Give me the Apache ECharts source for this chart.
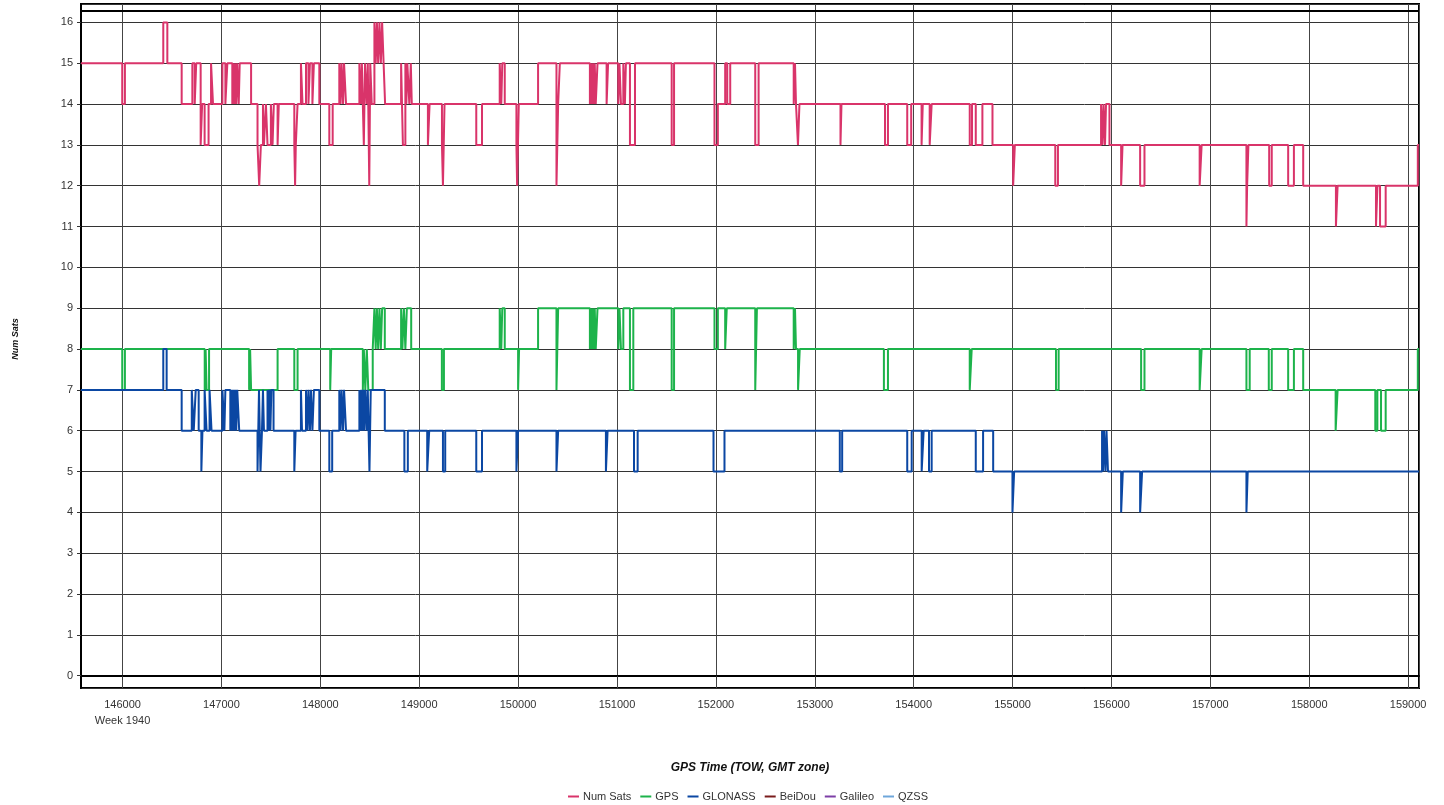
<!DOCTYPE html>
<html>
<head>
<meta charset="utf-8">
<script src="https://cdn.jsdelivr.net/npm/echarts@6/dist/echarts.min.js"></script>
<style>
html,body{margin:0;padding:0;background:#fff;}
#chart{width:1444px;height:805px;}
</style>
</head>
<body>
<div id="chart"></div>
<script>
// ---- DATA (GPS TOW seconds, satellite count held until next change) ----
const seriesNames = ['Num Sats', 'GPS', 'GLONASS', 'BeiDou', 'Galileo', 'QZSS'];
const xMin = 145580, xMax = 159110;
const yMin = -0.3, yMax = 16.45;

const numSats = [
[145580,15],[145997,14],[146024,15],[146412,16],[146453,15],[146598,14],[146706,15],[146730,14],[146745,15],
[146790,13],[146805,14],[146830,13],[146870,14],[146895,15],[146915,14],[147010,15],[147040,14],[147060,15],
[147110,14],[147120,15],[147130,14],[147140,15],[147150,14],[147160,15],[147175,14],[147185,15],[147300,14],
[147365,13],[147382,12],[147399,13],[147420,14],[147430,13],[147450,14],[147466,13],[147500,14],[147517,13],
[147530,14],[147568,13],[147580,14],[147737,13],[147745,12],[147752,13],[147770,14],[147804,15],[147820,14],
[147855,15],[147880,14],[147895,15],[147920,14],[147935,15],[147990,14],[148091,13],[148125,14],[148192,15],
[148205,14],[148215,15],[148230,14],[148240,15],[148260,14],[148395,15],[148410,14],[148420,15],[148440,13],
[148452,15],[148470,14],[148480,15],[148495,12],[148505,15],[148520,14],[148547,16],[148560,15],[148572,16],
[148585,15],[148598,16],[148612,15],[148625,16],[148640,15],[148655,14],[148817,15],[148835,13],[148860,15],
[148870,14],[148880,15],[148900,14],[148915,15],[148925,14],
[149088,13],[149105,14],[149230,13],[149240,12],[149256,14],[149577,13],[149635,14],[149814,15],[149830,14],
[149840,15],[149865,14],[149983,13],[149990,12],[150007,14],[150202,15],[150388,12],[150405,14],[150422,15],
[150726,14],[150735,15],[150745,14],[150755,15],[150765,14],[150775,15],[150785,14],[150803,15],[150895,14],
[150910,15],[151013,14],[151025,15],[151040,14],[151064,15],[151080,14],[151090,15],[151131,13],[151182,15],
[151553,13],[151577,15],[151986,13],[152020,14],[152094,15],[152115,14],[152145,15],[152398,13],[152432,15],
[152787,14],[152800,15],[152810,14],[152830,13],[152845,14],[153260,13],[153270,14],[153710,13],[153740,14],
[153935,13],[153975,14],[154080,13],[154092,14],[154162,13],[154182,14],[154567,13],[154590,14],[154628,13],
[154695,14],[154797,13],[155006,12],[155023,13],[155432,12],[155459,13],[155895,14],[155910,13],[155920,14],
[155935,13],[155945,14],[155980,13],
[156098,12],[156112,13],[156290,12],[156334,13],[156892,12],[156912,13],[157365,11],[157372,12],[157385,13],
[157595,12],[157621,13],[157787,12],[157845,13],[157939,12],[158270,11],[158287,12],[158675,11],[158690,12],
[158716,11],[158773,12],[159098,13],[159110,13]
];

const gps = [
[145580,8],[145997,7],[146024,8],[146831,7],[146840,8],[146850,7],[146875,8],[147280,7],[147290,8],[147300,7],
[147568,8],[147737,7],[147770,8],[148100,7],[148110,8],[148430,7],[148440,8],[148455,7],[148470,8],[148485,7],
[148530,8],[148547,9],[148560,8],[148572,9],[148585,8],[148598,9],[148612,8],[148625,9],[148652,8],[148817,9],
[148830,8],[148845,9],[148860,8],[148875,9],[148919,8],
[149229,7],[149250,8],[149814,9],[149830,8],[149840,9],[149865,8],[150000,7],[150010,8],[150202,9],[150388,7],
[150405,9],[150726,8],[150735,9],[150745,8],[150755,9],[150765,8],[150775,9],[150785,8],[150803,9],[151013,8],
[151025,9],[151040,8],[151064,9],[151131,7],[151165,9],[151553,7],[151577,9],[151986,8],[152020,9],[152094,8],
[152110,9],[152398,7],[152415,9],
[152787,8],[152800,9],[152810,8],[152831,7],[152848,8],[153699,7],[153740,8],[154567,7],[154587,8],[155439,7],
[155466,8],
[156300,7],[156334,8],[156892,7],[156912,8],[157365,7],[157398,8],[157591,7],[157621,8],[157787,7],[157845,8],
[157939,7],[158267,6],[158287,7],[158668,6],[158689,7],[158726,6],[158773,7],[159098,8],[159110,8]
];

const glonass = [
[145580,7],[146412,8],[146446,7],[146598,6],[146700,7],[146720,6],[146740,7],[146770,6],[146797,5],[146808,6],
[146830,7],[146850,6],[146880,7],[146900,6],[147010,7],[147030,6],[147040,7],[147090,6],[147100,7],[147110,6],
[147120,7],[147130,6],[147140,7],[147150,6],[147160,7],[147180,6],[147365,5],[147380,7],[147395,5],[147410,6],
[147420,7],[147430,6],[147466,7],[147475,6],[147485,7],[147495,6],[147505,7],[147527,6],[147737,5],[147750,6],
[147804,7],[147815,6],[147855,7],[147870,6],[147880,7],[147895,6],[147905,7],[147920,6],[147935,7],[147990,6],
[148091,5],[148120,6],[148192,7],[148205,6],[148215,7],[148230,6],[148240,7],[148260,6],[148395,7],[148405,6],
[148415,7],[148425,6],[148435,7],[148445,6],[148455,7],[148470,6],[148480,7],[148497,5],[148510,7],[148652,6],
[148850,5],[148885,6],
[149081,5],[149101,6],[149240,5],[149263,6],[149577,5],[149635,6],[149983,5],[150000,6],[150388,5],[150405,6],
[150888,5],[150905,6],[151172,5],[151209,6],[151976,5],[152087,6],
[153253,5],[153277,6],[153935,5],[153980,6],[154081,5],[154101,6],[154155,5],[154182,6],[154628,5],[154702,6],
[154804,5],[154999,4],[155016,5],[155905,6],[155915,5],[155925,6],[155940,5],[155950,6],[155965,5],
[156098,4],[156115,5],[156290,4],[156310,5],[157365,4],[157378,5],[159110,5]
];

const beidou = [];
const galileo = [];
const qzss = [];

const weekLabel = 'Week 1940';
const firstTick = 146000;

// ---- STYLE ----
const colors = ['#D9346A', '#1DB34B', '#0B47A3', '#7A1C1C', '#7D3FA6', '#6EA6DA'];
const font = '"Liberation Sans", Arial, sans-serif';

const chart = echarts.init(document.getElementById('chart'), null, {renderer: 'canvas'});

function lineSeries(name, data, color, extra) {
  return Object.assign({
    name: name,
    type: 'line',
    step: 'end',
    data: data,
    symbol: 'none',
    showSymbol: false,
    animation: false,
    lineStyle: {color: color, width: 2},
    itemStyle: {color: color},
    emphasis: {disabled: true}
  }, extra || {});
}

const option = {
  animation: false,
  backgroundColor: '#ffffff',
  color: colors,
  grid: {
    left: 81, right: 25, top: 4, bottom: 117,
    show: true, borderColor: '#000', borderWidth: 2,
    containLabel: false
  },
  legend: {
    data: seriesNames,
    top: 786,
    left: 563,
    icon: 'rect',
    itemWidth: 11,
    itemHeight: 2,
    itemGap: 9,
    textStyle: {fontFamily: font, fontSize: 11, color: '#333', padding: [0, 0, 0, -1]}
  },
  xAxis: {
    type: 'value',
    min: xMin,
    max: xMax,
    splitNumber: 13,
    name: 'GPS Time (TOW, GMT zone)',
    nameLocation: 'middle',
    nameGap: 74,
    nameTextStyle: {fontFamily: font, fontSize: 12, fontWeight: 'bold', fontStyle: 'italic', color: '#111'},
    axisLine: {show: true, lineStyle: {color: '#000', width: 2}},
    axisTick: {show: true, length: 4, lineStyle: {color: '#333'}},
    axisLabel: {
      fontFamily: font, fontSize: 11, color: '#333', margin: 9, lineHeight: 16,
      showMinLabel: false, showMaxLabel: false,
      formatter: function (v) { return v === firstTick ? v + '\n' + weekLabel : String(v); }
    },
    splitLine: {show: true, lineStyle: {color: '#444', width: 1}}
  },
  yAxis: {
    type: 'value',
    min: yMin,
    max: yMax,
    splitNumber: 16,
    name: 'Num Sats',
    nameLocation: 'middle',
    nameGap: 61,
    nameRotate: 90,
    nameTextStyle: {fontFamily: font, fontSize: 9, fontWeight: 'bold', fontStyle: 'italic', color: '#111', padding: [0, 0, 0, 14]},
    axisLine: {show: true, lineStyle: {color: '#000', width: 2}},
    axisTick: {show: true, length: 4, lineStyle: {color: '#333'}},
    axisLabel: {
      fontFamily: font, fontSize: 11, color: '#333', margin: 8,
      showMinLabel: false, showMaxLabel: false,
      formatter: function (v) { return Math.round(v) === v ? String(v) : ''; }
    },
    splitLine: {show: true, lineStyle: {color: '#333', width: 1}}
  },
  series: [
    lineSeries(seriesNames[0], numSats, colors[0], {
      markLine: {
        silent: true, symbol: 'none', animation: false,
        label: {show: false},
        lineStyle: {color: '#000', width: 2, type: 'solid'},
        data: [{yAxis: 16.28}]
      }
    }),
    lineSeries(seriesNames[1], gps, colors[1]),
    lineSeries(seriesNames[2], glonass, colors[2]),
    lineSeries(seriesNames[3], beidou, colors[3]),
    lineSeries(seriesNames[4], galileo, colors[4]),
    lineSeries(seriesNames[5], qzss, colors[5])
  ]
};

chart.setOption(option);
</script>
</body>
</html>
